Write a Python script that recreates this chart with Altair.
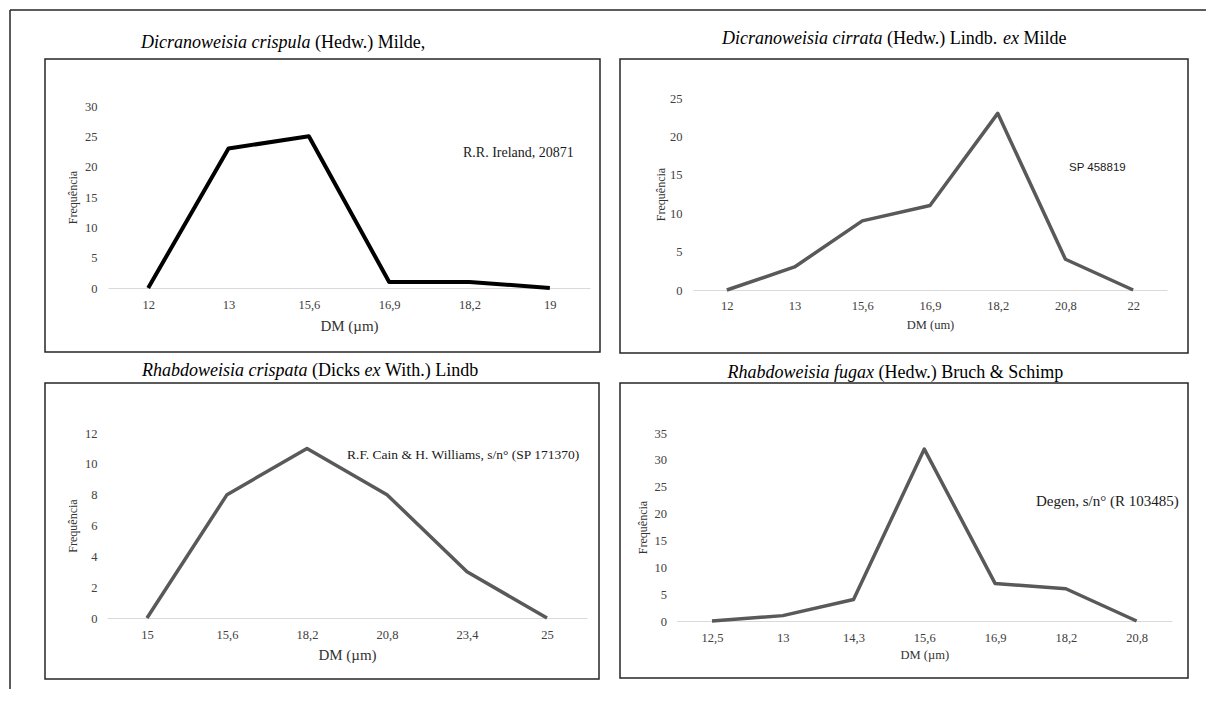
import altair as alt
import pandas as pd

SERIF = "Liberation Serif"
SANS = "Liberation Sans"

# ---- data ----
p1_cats = ["12", "13", "15,6", "16,9", "18,2", "19"]
p1_vals = [0, 23, 25, 1, 1, 0]
p1_yticks = [0, 5, 10, 15, 20, 25, 30]

p2_cats = ["12", "13", "15,6", "16,9", "18,2", "20,8", "22"]
p2_vals = [0, 3, 9, 11, 23, 4, 0]
p2_yticks = [0, 5, 10, 15, 20, 25]

p3_cats = ["15", "15,6", "18,2", "20,8", "23,4", "25"]
p3_vals = [0, 8, 11, 8, 3, 0]
p3_yticks = [0, 2, 4, 6, 8, 10, 12]

p4_cats = ["12,5", "13", "14,3", "15,6", "16,9", "18,2", "20,8"]
p4_vals = [0, 1, 4, 32, 7, 6, 0]
p4_yticks = [0, 5, 10, 15, 20, 25, 30, 35]

LABEL_COLOR = "#404040"
TITLE_COLOR = "#333333"


def panel(cats, vals, yticks, ymax, W, H, xr, yr, ylab_pad, ytitle_x,
          xlab_dy, xtitle, xtitle_dy, xtitle_size, color, sw,
          note, note_x, note_y, note_font, note_size, title_segs, title_y,
          extra=None):
    df = pd.DataFrame({"DM": cats, "Freq": vals})
    x_axis = alt.Axis(
        orient="bottom", offset=yr[0] - H, domainColor="#d9d9d9", domainWidth=1.2,
        ticks=False, tickSize=0, grid=False, labelAngle=0, labelFont=SERIF,
        labelFontSize=12.5, labelColor=LABEL_COLOR, labelPadding=xlab_dy,
        labelBaseline="middle", title=xtitle, titleFont=SERIF,
        titleFontSize=xtitle_size, titleColor=TITLE_COLOR, titleFontWeight="normal",
        titleX=(xr[0] + xr[1]) / 2, titleY=xtitle_dy, titleBaseline="middle",
        titleAlign="center")
    y_axis = alt.Axis(
        orient="left", offset=-xr[0], domain=False, ticks=False, tickSize=0,
        grid=False, values=yticks, labelFont=SERIF, labelFontSize=12.5,
        labelColor=LABEL_COLOR, labelPadding=ylab_pad, title="Frequência",
        titleFont=SERIF, titleFontSize=12, titleColor=TITLE_COLOR,
        titleFontWeight="normal", titleX=ytitle_x - xr[0],
        titleY=(yr[0] + yr[1]) / 2, titleAngle=270, titleBaseline="middle",
        titleAlign="center")
    line = alt.Chart(df).mark_line(color=color, strokeWidth=sw, strokeJoin="round").encode(
        x=alt.X("DM:O", sort=cats,
                scale=alt.Scale(type="point", range=list(xr), padding=0.5),
                axis=x_axis),
        y=alt.Y("Freq:Q", scale=alt.Scale(domain=[0, ymax], range=list(yr), nice=False),
                axis=y_axis),
    )
    layers = [line]
    layers.append(
        alt.Chart(pd.DataFrame({"t": [note]})).mark_text(
            align="left", baseline="middle", font=note_font, fontSize=note_size,
            color="#1a1a1a").encode(text="t:N", x=alt.value(note_x), y=alt.value(note_y))
    )
    for text, x, italic in title_segs:
        layers.append(
            alt.Chart(pd.DataFrame({"t": [text]})).mark_text(
                align="left", baseline="middle", font=SERIF, fontSize=18,
                fontStyle="italic" if italic else "normal", color="black"
            ).encode(text="t:N", x=alt.value(x), y=alt.value(title_y))
        )
    if extra:
        layers = extra + layers
    return alt.layer(*layers).properties(width=W, height=H)


# outer frame lines (decoration only)
frame_df = pd.DataFrame({"a": [0]})
frame_v = alt.Chart(frame_df).mark_rule(color="#262626", strokeWidth=1.5).encode(
    x=alt.value(-35), y=alt.value(-49), y2=alt.value(630))
frame_h = alt.Chart(frame_df).mark_rule(color="#262626", strokeWidth=1.5).encode(
    x=alt.value(-35), x2=alt.value(1161), y=alt.value(-49))

p1 = panel(p1_cats, p1_vals, p1_yticks, 30, 555, 293, (63, 545), (229, 47), 11, 27,
           16, "DM (µm)", 37, 15, "black", 4,
           "R.R. Ireland, 20871", 418, 94, SERIF, 14,
           [("Dicranoweisia crispula", 96, True), ("(Hedw.) Milde,", 270, False)], -16,
           extra=[frame_v, frame_h])

p2 = panel(p2_cats, p2_vals, p2_yticks, 25, 568, 294, (73, 547), (231, 39), 11, 40,
           15, "DM (um)", 34, 12.5, "#595959", 3.5,
           "SP 458819", 449, 109, SANS, 11.5,
           [("Dicranoweisia cirrata", 102, True), ("(Hedw.) Lindb.", 267, False),
            ("ex", 383, True), ("Milde", 403.5, False)], -20)

p3 = panel(p3_cats, p3_vals, p3_yticks, 12, 554, 296, (62, 542), (235, 50), 10, 27,
           16, "DM (µm)", 36, 15, "#595959", 3.5,
           "R.F. Cain & H. Williams, s/n° (SP 171370)", 302, 72, SERIF, 13.5,
           [("Rhabdoweisia crispata", 97, True), ("(Dicks", 267, False),
            ("ex", 319.5, True), ("With.) Lindb", 340, False)], -12)

p4 = panel(p4_cats, p4_vals, p4_yticks, 35, 568, 295, (56.6, 552), (238, 50), 10, 22,
           16, "DM (µm)", 33, 12.5, "#595959", 3.5,
           "Degen, s/n° (R 103485)", 416, 118, SERIF, 15,
           [("Rhabdoweisia fugax", 107.5, True), ("(Hedw.) Bruch & Schimp", 258.5, False)], -10)

chart = alt.concat(
    p1, p2, p3, p4, columns=2, spacing={"row": 30, "column": 20}, bounds="flush"
).configure_view(
    stroke="#262626", strokeWidth=1.5
).properties(padding=0, background="white")

chart.save("out.html", embed_options={"renderer": "svg", "actions": False})
